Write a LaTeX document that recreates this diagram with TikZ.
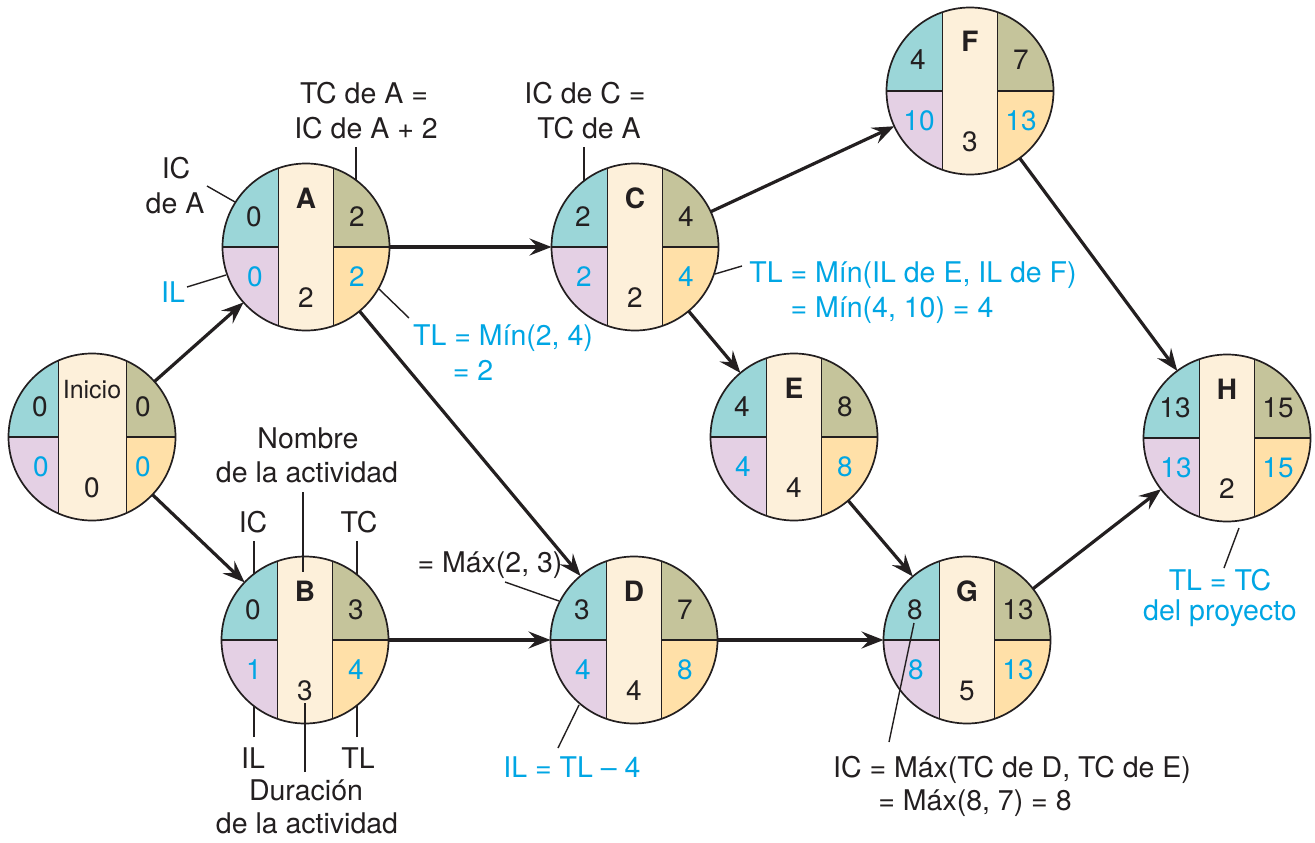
\documentclass[tikz,border=0pt]{standalone}
\usepackage{fontspec}
\setmainfont{TeX Gyre Heros}
\usetikzlibrary{arrows.meta}
\definecolor{cteal}{RGB}{155,214,216}
\definecolor{colive}{RGB}{197,196,155}
\definecolor{clil}{RGB}{228,208,228}
\definecolor{corange}{RGB}{255,224,168}
\definecolor{ccream}{RGB}{253,240,218}
\definecolor{ccyan}{RGB}{0,166,228}
\definecolor{cink}{RGB}{35,31,32}
\tikzset{
  actcircle/.style={circle,draw=cink,line width=1.7pt,minimum size=167pt,inner sep=0pt,outer sep=0pt},
  divline/.style={draw=cink,line width=1.7pt},
  numtxt/.style={font=\fontsize{28}{34}\selectfont,text=cink,inner sep=0pt,text height=20pt,text depth=0pt,anchor=center},
  nametxt/.style={font=\fontsize{28}{34}\selectfont\bfseries,text=cink,inner sep=0pt,text height=20pt,text depth=0pt,anchor=center},
  lbl/.style={font=\fontsize{28.5}{34}\selectfont,text=cink,inner sep=0pt,anchor=base},
  cylbl/.style={lbl,text=ccyan},
  arr/.style={draw=cink,line width=3.2pt,-{Stealth[length=22pt,width=17pt,inset=8pt]}},
  ann/.style={draw=cink,line width=1.4pt},
}
\def\stripL{27.5}
\def\stripR{27.5}
\newcommand\actnode[9]{%
  \begin{scope}
    \clip (#2,#3) circle[radius=83.5pt];
    \fill[cteal] ({#2-90},{#3-90}) rectangle ({#2-\stripL},#3);
    \fill[clil] ({#2-90},#3) rectangle ({#2-\stripL},{#3+90});
    \fill[ccream] ({#2-\stripL},{#3-90}) rectangle ({#2+\stripR},{#3+90});
    \fill[colive] ({#2+\stripR},{#3-90}) rectangle ({#2+90},#3);
    \fill[corange] ({#2+\stripR},#3) rectangle ({#2+90},{#3+90});
    \draw[divline] ({#2-90},#3) -- ({#2-\stripL},#3);
    \draw[divline] ({#2+\stripR},#3) -- ({#2+90},#3);
    \draw[divline] ({#2-\stripL},{#3-90}) -- ({#2-\stripL},{#3+90});
    \draw[divline] ({#2+\stripR},{#3-90}) -- ({#2+\stripR},{#3+90});
  \end{scope}
  \node[actcircle] (#1) at (#2,#3) {};
  \node[nametxt] (#1-nm) at (#2,{#3-49}) {#4};
  \node[numtxt] (#1-du) at (#2,{#3+50}) {#5};
  \node[numtxt] (#1-ic) at ({#2-52},{#3-31}) {#6};
  \node[numtxt] (#1-tc) at ({#2+51},{#3-31}) {#7};
  \node[numtxt,text=ccyan] (#1-il) at ({#2-51},{#3+29}) {#8};
  \node[numtxt,text=ccyan] (#1-tl) at ({#2+51},{#3+29}) {#9};
}
\begin{document}
\begin{tikzpicture}[x=1pt,y=-1pt]
\useasboundingbox (0,0) rectangle (1315,843);
\fill[white] (0,0) rectangle (1315,843);

% activity nodes
\def\stripL{33.5}\def\stripR{34.5}
\actnode{I}{92}{437}{{\mdseries\fontsize{25}{30}\selectfont Inicio}}{0}{0}{0}{0}{0}
\def\stripL{27.5}\def\stripR{27.5}
\actnode{A}{306}{247}{A}{2}{0}{2}{0}{2}
\actnode{B}{305}{640}{B}{3}{0}{3}{1}{4}
\actnode{C}{635}{247}{C}{2}{2}{4}{2}{4}
\actnode{D}{634}{640}{D}{4}{3}{7}{4}{8}
\actnode{E}{794}{437}{E}{4}{4}{8}{4}{8}
\actnode{F}{970}{91}{F}{3}{4}{7}{10}{13}
\actnode{G}{967}{640}{G}{5}{8}{13}{8}{13}
\actnode{H}{1227}{438}{H}{2}{13}{15}{13}{15}

% arrows
\draw[arr] (I) -- (A);
\draw[arr] (I) -- (B);
\draw[arr] (A) -- (C);
\draw[arr] (A) -- (D);
\draw[arr] (B) -- (D);
\draw[arr] (C) -- (F);
\draw[arr] (C) -- (E);
\draw[arr] (D) -- (G);
\draw[arr] (E) -- (G);
\draw[arr] (F) -- (H);
\draw[arr] (G) -- (H);

% labels
\node[lbl] (icA1) at (176,178) {IC};
\node[lbl] (icA2) at (175,213) {de A};
\node[lbl] (tcA1) at (364,103) {TC de A =};
\node[lbl] (tcA2) at (366,138) {IC de A + 2};
\node[cylbl] (ilA) at (173,302) {IL};
\node[cylbl] (tlA1) at (503,345) {TL = Mín(2, 4)};
\node[cylbl] (tlA2) at (473,380) {= 2};
\node[lbl] (icC1) at (585,103) {IC de C =};
\node[lbl] (icC2) at (589,138) {TC de A};
\node[cylbl] (tlC1) at (913,282) {TL = Mín(IL de E, IL de F)};
\node[cylbl] (tlC2) at (892,317) {= Mín(4, 10) = 4};
\node[lbl] (nom1) at (308,448) {Nombre};
\node[lbl] (nom2) at (307,482) {de la actividad};
\node[lbl] (icB) at (253,532) {IC};
\node[lbl] (tcB) at (359,532) {TC};
\node[lbl] (ilB) at (253,768) {IL};
\node[lbl] (tlB) at (358,768) {TL};
\node[lbl] (dur1) at (306,800) {Duración};
\node[lbl] (dur2) at (307,833) {de la actividad};
\node[lbl] (maxD) at (490,572) {= Máx(2, 3)};
\node[cylbl] (ilD) at (572,777) {IL = TL – 4};
\node[lbl] (icG1) at (1012,777) {IC = Máx(TC de D, TC de E)};
\node[lbl] (icG2) at (975,810) {= Máx(8, 7) = 8};
\node[cylbl] (tlH1) at (1220,590) {TL = TC};
\node[cylbl] (tlH2) at (1220,620) {del proyecto};

% annotation line ends
\coordinate (a1s) at (207,186); \coordinate (a1e) at (235,202);
\coordinate (a2s) at (356,147); \coordinate (a2e) at (356,180);
\coordinate (a3s) at (187,287); \coordinate (a3e) at (226,275);
\coordinate (a4s) at (409,318); \coordinate (a4e) at (379,289);
\coordinate (a5s) at (584,147); \coordinate (a5e) at (584,181);
\coordinate (a6s) at (742,266); \coordinate (a6e) at (715,274);
\coordinate (a7s) at (303,492); \coordinate (a7e) at (303,572);
\coordinate (a8s) at (254,541); \coordinate (a8e) at (254,574);
\coordinate (a9s) at (357,541); \coordinate (a9e) at (357,574);
\coordinate (a10s) at (254,737); \coordinate (a10e) at (254,706);
\coordinate (a11s) at (357,737); \coordinate (a11e) at (357,706);
\coordinate (a12s) at (305,772); \coordinate (a12e) at (305,703);
\coordinate (a13s) at (505,582); \coordinate (a13e) at (559,601);
\coordinate (a14s) at (558,748); \coordinate (a14e) at (579,705);
\coordinate (a15s) at (889,742); \coordinate (a15e) at (914,623);
\coordinate (a16s) at (1224,568); \coordinate (a16e) at (1239,528);
\foreach \k in {1,...,16}{\draw[ann] (a\k s) -- (a\k e);}
\end{tikzpicture}
\end{document}
